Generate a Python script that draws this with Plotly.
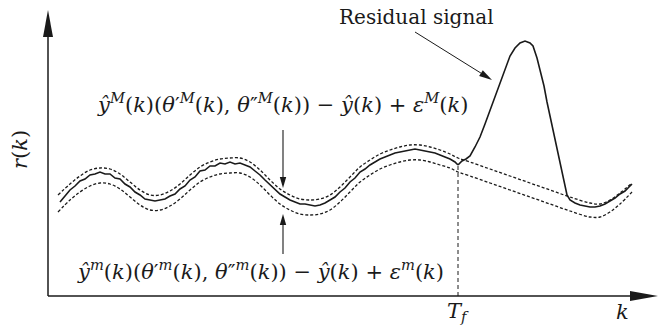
import math
import plotly.graph_objects as go

# ---- data ----
k_main = [12, 17, 22, 27, 32, 37, 42, 47, 52, 57, 62, 67, 72, 77, 82, 87, 92, 97, 102, 107,
          112, 117, 122, 127, 132, 137, 142, 147, 152, 157, 162, 167, 172, 177, 182, 187, 192,
          197, 202, 207, 212, 217, 222, 227, 232, 237, 242, 247, 252, 257, 262, 267, 272, 277,
          282, 287, 292, 297, 302, 307, 312, 317, 322, 327, 332, 337, 342, 347, 352, 357, 362,
          367, 372, 377, 382, 387, 392, 397, 402, 407, 410]
r_main = [94, 100, 106, 110, 115, 117, 121, 122, 124, 122, 122, 118, 117, 112, 109, 104, 101,
          97, 96, 95, 96, 97, 100, 102, 107, 110, 116, 119, 125, 126, 130, 130, 133, 132, 134,
          132, 133, 131, 129, 125, 121, 116, 111, 106, 102, 99, 96, 94, 92, 92, 91, 90, 91, 93,
          96, 99, 104, 108, 114, 118, 124, 127, 131, 134, 137, 139, 141, 143, 144, 145, 146,
          147, 146, 145, 144, 143, 141, 139, 137, 134, 131]

k_res = [410, 414, 418, 422, 427, 432, 437, 442, 447, 452, 457, 462, 467, 472, 477, 482, 485,
         489, 492, 496, 499, 503, 507, 511, 515, 519, 522, 527, 532, 537, 542, 547, 552, 557,
         562, 567, 572, 577, 581, 584]
r_res = [131, 135, 137, 140, 149, 159, 172, 186, 200, 214, 228, 240, 248, 253, 255, 253, 250,
         238, 226, 210, 194, 176, 158, 139, 120, 101, 96, 93, 91, 90, 89, 89, 90, 92, 95, 98,
         102, 105, 109, 112]

k_band = [10, 22, 32, 42, 52, 62, 72, 82, 92, 102, 112, 122, 132, 142, 152, 162, 172, 182, 192,
          202, 212, 222, 232, 242, 252, 262, 272, 282, 292, 302, 312, 322, 332, 342, 352, 362,
          372, 382, 392, 402, 410, 422, 442, 462, 482, 502, 522, 542, 552, 562, 572, 584]
r_upper = [101, 112, 120, 126, 128, 127, 122, 114, 106, 101, 101, 105, 112, 121, 129, 134, 137,
           138, 138, 134, 126, 116, 107, 101, 97, 96, 97, 101, 109, 119, 129, 136, 142, 146,
           149, 151, 151, 149, 146, 142, 138, 134, 127, 120, 113, 106, 99, 93, 92, 96, 103, 113]
r_lower = [84, 96, 104, 110, 113, 112, 107, 99, 91, 86, 86, 90, 97, 106, 114, 119, 122, 123,
           123, 119, 111, 101, 92, 86, 82, 81, 82, 86, 94, 104, 114, 121, 127, 131, 134, 136,
           136, 134, 131, 128, 124, 120, 113, 106, 99, 92, 85, 79, 79, 84, 92, 104]

T_f = 410
k_axis_end = 610
r_axis_end = 286

label_upper = ("<i>ŷ</i><sup><i>M</i></sup>(<i>k</i>)(<i>θ</i>′<sup><i>M</i></sup>(<i>k</i>), "
               "<i>θ</i>″<sup><i>M</i></sup>(<i>k</i>)) − <i>ŷ</i>(<i>k</i>) + "
               "<i>ε</i><sup><i>M</i></sup>(<i>k</i>)")
label_lower = ("<i>ŷ</i><sup><i>m</i></sup>(<i>k</i>)(<i>θ</i>′<sup><i>m</i></sup>(<i>k</i>), "
               "<i>θ</i>″<sup><i>m</i></sup>(<i>k</i>)) − <i>ŷ</i>(<i>k</i>) + "
               "<i>ε</i><sup><i>m</i></sup>(<i>k</i>)")

FONT = "DejaVu Serif, Liberation Serif, serif"
INK = "#1a1a1a"

fig = go.Figure()
dash_style = dict(color=INK, width=1.3, dash="3px,2px")
fig.add_trace(go.Scatter(x=k_band, y=r_upper, mode="lines", line=dict(shape="spline", **dash_style),
                         hoverinfo="skip"))
fig.add_trace(go.Scatter(x=k_band, y=r_lower, mode="lines", line=dict(shape="spline", **dash_style),
                         hoverinfo="skip"))
fig.add_trace(go.Scatter(x=k_main, y=r_main, mode="lines", line=dict(color=INK, width=1.6),
                         hoverinfo="skip"))
fig.add_trace(go.Scatter(x=k_res, y=r_res, mode="lines", line=dict(color=INK, width=1.6),
                         hoverinfo="skip"))


def arrow(x0, y0, x1, y1, length=11, half=3.2, width=1.1):
    """line from (x0,y0) to tip (x1,y1) with a filled head (data units = pixels here)"""
    dx, dy = x1 - x0, y1 - y0
    d = math.hypot(dx, dy)
    ux, uy = dx / d, dy / d
    bx, by = x1 - ux * length, y1 - uy * length
    px, py = -uy * half, ux * half
    return [
        dict(type="line", x0=x0, y0=y0, x1=bx, y1=by, line=dict(color=INK, width=width)),
        dict(type="path", fillcolor=INK, line=dict(width=0),
             path=f"M {bx+px} {by+py} L {x1} {y1} L {bx-px} {by-py} Z"),
    ]


shapes = [
    dict(type="line", x0=T_f, y0=0, x1=T_f, y1=131, line=dict(color=INK, width=1, dash="4px,3px")),
]
shapes += arrow(0, 0, 0, r_axis_end, length=27, half=5, width=1.5)
shapes += arrow(0, 0, k_axis_end, 0, length=28, half=5, width=1.5)
shapes += arrow(235, 166, 235, 108)
shapes += arrow(235, 42, 235, 82)
shapes += arrow(367, 264, 444, 216, length=13, half=3.5, width=1.0)

ann = [
    dict(x=234, y=193, text=label_upper, showarrow=False, font=dict(family=FONT, size=21, color=INK)),
    dict(x=212, y=26, text=label_lower, showarrow=False, font=dict(family=FONT, size=21, color=INK)),
    dict(x=368, y=279, text="Residual signal", showarrow=False, font=dict(family=FONT, size=20, color=INK)),
    dict(x=T_f, y=-16, text="<i>T</i><sub><i>f</i></sub>", showarrow=False,
         font=dict(family=FONT, size=21, color=INK)),
    dict(x=574, y=-16, text="<i>k</i>", showarrow=False, font=dict(family=FONT, size=21, color=INK)),
    dict(x=-28, y=146, text="<i>r</i>(<i>k</i>)", showarrow=False, textangle=-90,
         font=dict(family=FONT, size=21, color=INK)),
]

fig.update_layout(
    width=664, height=329, margin=dict(l=0, r=0, t=0, b=0),
    paper_bgcolor="white", plot_bgcolor="white", showlegend=False,
    xaxis=dict(range=[-48, 616], visible=False, fixedrange=True),
    yaxis=dict(range=[-33, 296], visible=False, fixedrange=True),
    shapes=shapes, annotations=ann,
)
fig.write_html("out.html", config={"displayModeBar": False},
               post_script="document.body.style.margin='0';document.body.style.padding='0';")
